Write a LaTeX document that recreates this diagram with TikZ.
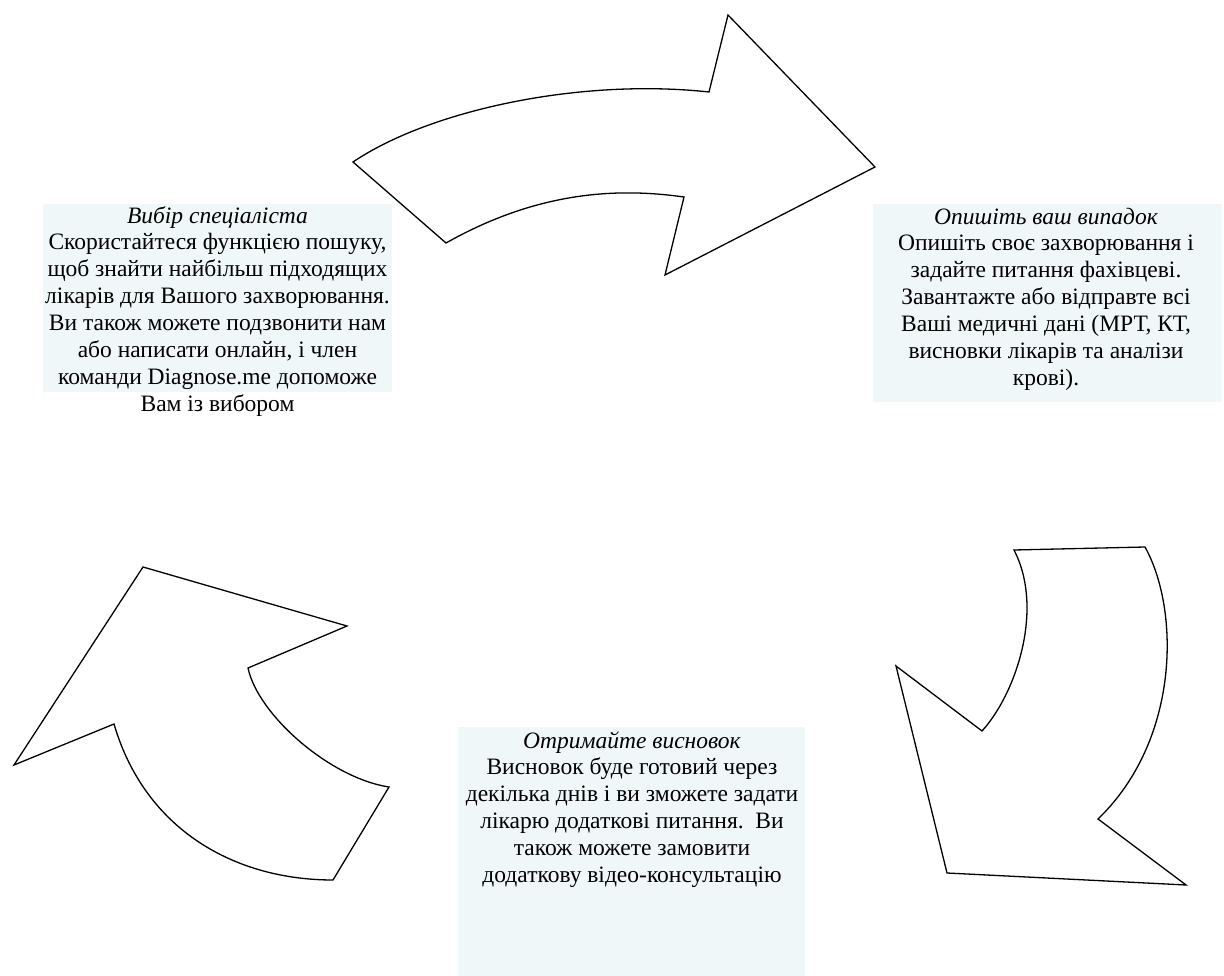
\documentclass[tikz,border=0pt]{standalone}
\usepackage{fontspec}
\setmainfont{Liberation Serif}
\definecolor{boxfill}{RGB}{239,247,249}
\tikzset{
  arrowshape/.style={draw=black, line width=1.3pt, fill=white, line join=miter},
  infobox/.style={fill=boxfill, draw=none, inner sep=0pt, anchor=north west},
  infotext/.style={align=center, anchor=north, inner sep=0pt, font=\fontsize{23.5}{26.9}\selectfont}
}
\begin{document}
\begin{tikzpicture}[x=1pt, y=-1pt]
\useasboundingbox (0,0) rectangle (1224,976);
% boxes
\node[infobox, minimum width=349pt, minimum height=188pt] (box1) at (43,204) {};
\node[infobox, minimum width=349pt, minimum height=198pt] (box2) at (873,204) {};
\node[infobox, minimum width=347pt, minimum height=249pt] (box3) at (458,727) {};
% texts
\node[infotext] (t1) at (217.5,204) {\strut\textit{Вибір спеціаліста}\\
Скористайтеся функцією пошуку,\\
щоб знайти найбільш підходящих\\
лікарів для Вашого захворювання.\\
Ви також можете подзвонити нам\\
або написати онлайн, і член\\
команди Diagnose.me допоможе\\
Вам із вибором};
\node[infotext] (t2) at (1046,205) {\strut\textit{Опишіть ваш випадок}\\
Опишіть своє захворювання і\\
задайте питання фахівцеві.\\
Завантажте або відправте всі\\
Ваші медичні дані (МРТ, КТ,\\
висновки лікарів та аналізи\\
крові).};
\node[infotext] (t3) at (632,729) {\strut\textit{Отримайте висновок}\\
Висновок буде готовий через\\
декілька днів і ви зможете задати\\
лікарю додаткові питання.\ \ Ви\\
також можете замовити\\
додаткову відео-консультацію};
% arrows
\draw[arrowshape] (353,162) .. controls (430,110) and (580,78) .. (709,92)
  -- (728,15) -- (875,167) -- (665,275) -- (684,197)
  .. controls (620,188) and (540,190) .. (446,243) -- cycle;
\draw[arrowshape] (1014,550) -- (1145,547)
  .. controls (1180,610) and (1180,740) .. (1098,819)
  -- (1186,885) -- (947,873) -- (896,666) -- (982,731)
  .. controls (1015,695) and (1045,610) .. (1014,550) -- cycle;
\draw[arrowshape] (143,567) -- (347,626) -- (248,668)
  .. controls (258,715) and (330,778) .. (389,787)
  -- (333,880) .. controls (235,880) and (145,830) .. (114,724)
  -- (14,765) -- cycle;
\end{tikzpicture}
\end{document}
